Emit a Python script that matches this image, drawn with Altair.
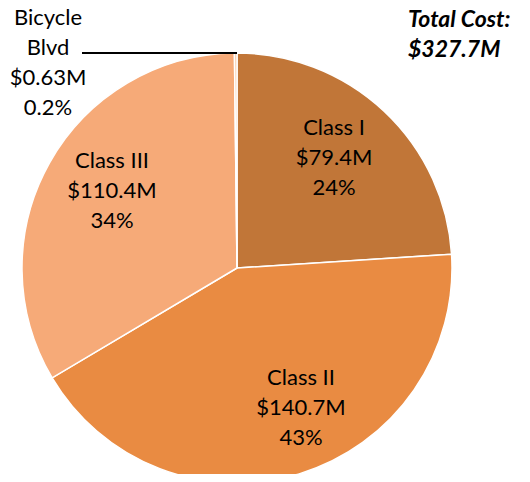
import altair as alt
import pandas as pd

categories = ["Class I", "Class II", "Class III", "Bicycle Blvd"]
costs = [79.4, 140.7, 110.4, 0.63]
cost_labels = ["$79.4M", "$140.7M", "$110.4M", "$0.63M"]
pct_labels = ["24%", "43%", "34%", "0.2%"]
colors = ["#C17638", "#E98B42", "#F6AA78", "#FAC9A6"]
total_label = ["Total Cost:", "$327.7M"]

df = pd.DataFrame({"cat": categories, "cost": costs, "order": range(len(categories))})

FONT = "Lato"
CX, CY, R = 229, 260, 215

arc = alt.Chart(df).mark_arc(radius=R, stroke="white", strokeWidth=1.5).encode(
    theta=alt.Theta("cost:Q", stack=True),
    order=alt.Order("order:Q"),
    color=alt.Color("cat:N", scale=alt.Scale(domain=categories, range=colors), legend=None),
    x=alt.value(CX),
    y=alt.value(CY),
)

# label anchor (centre of first line), chart coordinates
label_pos = [(326, 120), (293, 370), (104, 153), (40, 10)]
lab_df = pd.DataFrame({
    "txt": [
        f"{c}\n{v}\n{p}" if c != "Bicycle Blvd" else f"Bicycle\nBlvd\n{v}\n{p}"
        for c, v, p in zip(categories, cost_labels, pct_labels)
    ],
    "px": [p[0] for p in label_pos],
    "py": [p[1] for p in label_pos],
})

labels = alt.Chart(lab_df).mark_text(
    font=FONT, fontSize=22, lineBreak="\n", lineHeight=30, align="center",
    baseline="middle", color="black",
).encode(
    x=alt.X("px:Q", scale=None), y=alt.Y("py:Q", scale=None), text="txt:N"
)

leader = alt.Chart(pd.DataFrame({"a": [0]})).mark_rule(color="black", strokeWidth=2).encode(
    x=alt.value(74), x2=alt.value(229), y=alt.value(45)
)

total = alt.Chart(pd.DataFrame({"t": ["\n".join(total_label)]})).mark_text(
    font=FONT, fontSize=23, fontWeight="bold", fontStyle="italic", lineBreak="\n",
    lineHeight=30, align="left", baseline="middle", color="black",
).encode(x=alt.value(400), y=alt.value(12), text="t:N")

chart = alt.layer(arc, leader, labels, total).properties(
    width=514, height=466, padding=0, autosize=alt.AutoSizeParams(type="none")
).configure_view(stroke=None)

chart.save("out.html", embed_options={"renderer": "svg", "actions": False})
